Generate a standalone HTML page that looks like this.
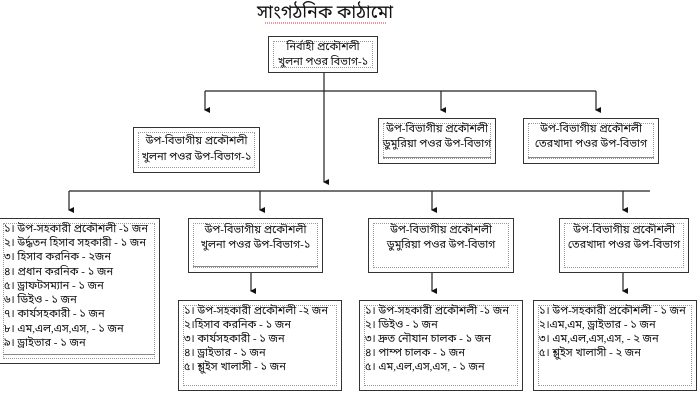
<!DOCTYPE html>
<html><head><meta charset="utf-8"><style>
html,body{margin:0;padding:0;background:#fff;width:700px;height:407px;overflow:hidden;position:relative;font-family:"Liberation Serif","Noto Sans Bengali","Lohit Bengali",serif;color:#111}
.b{position:absolute;border:1.5px solid #333;box-sizing:border-box;background:#fff}
.in{position:absolute;left:4px;right:4px;top:4px;bottom:4px;border:1px dotted #999}
.bl{position:absolute;left:4px;right:4px;bottom:5px;border-top:1px solid #888}
.t{position:absolute;left:0;right:0;text-align:center;font-size:11px;line-height:14px;white-space:nowrap}
.l{position:absolute;left:5px;font-size:11px;line-height:14.3px;white-space:nowrap}
</style></head><body>
<svg width="700" height="407" style="position:absolute;left:0;top:0">
<defs><marker id="a" markerWidth="6" markerHeight="6" refX="3" refY="5" orient="auto" markerUnits="userSpaceOnUse"><path d="M0,0 L6,0 L3,6z" fill="#111"/></marker></defs>
<g stroke="#222" stroke-width="1.2" fill="none">
<line x1="324" y1="73" x2="324" y2="182" marker-end="url(#a)"/>
<line x1="205" y1="91" x2="596" y2="91"/>
<line x1="205" y1="91" x2="205" y2="110" marker-end="url(#a)"/>
<line x1="441" y1="91" x2="441" y2="110" marker-end="url(#a)"/>
<line x1="596" y1="91" x2="596" y2="110" marker-end="url(#a)"/>
<line x1="69" y1="191" x2="650" y2="191"/>
<line x1="69" y1="191" x2="69" y2="210" marker-end="url(#a)"/>
<line x1="260" y1="191" x2="260" y2="210" marker-end="url(#a)"/>
<line x1="432" y1="191" x2="432" y2="210" marker-end="url(#a)"/>
<line x1="623" y1="191" x2="623" y2="210" marker-end="url(#a)"/>
<line x1="251" y1="273" x2="251" y2="291" marker-end="url(#a)"/>
<line x1="432" y1="273" x2="432" y2="291" marker-end="url(#a)"/>
<line x1="623" y1="273" x2="623" y2="291" marker-end="url(#a)"/>
</g>
<line x1="265" y1="23" x2="386" y2="23" stroke="#c33" stroke-width="1" stroke-dasharray="1,1"/>
</svg>
<div style="position:absolute;left:250px;top:1px;width:150px;text-align:center;font-size:18px;line-height:22px">সাংগঠনিক কাঠামো</div>

<div class="b" style="left:268px;top:36px;width:110px;height:37px"><div class="in"></div><div class="t" style="top:3px">নির্বাহী প্রকৌশলী</div><div class="t" style="top:18px">খুলনা পওর বিভাগ-১</div></div>

<div class="b" style="left:133px;top:127px;width:127px;height:46px"><div class="in"></div><div class="t" style="top:6px">উপ-বিভাগীয় প্রকৌশলী</div><div class="t" style="top:22px">খুলনা পওর উপ-বিভাগ-১</div></div>
<div class="b" style="left:378px;top:118px;width:118px;height:46px"><div class="in"></div><div class="bl"></div><div class="t" style="top:3px">উপ-বিভাগীয় প্রকৌশলী</div><div class="t" style="top:18px">ডুমুরিয়া পওর উপ-বিভাগ</div></div>
<div class="b" style="left:523px;top:118px;width:136px;height:46px"><div class="in"></div><div class="bl"></div><div class="t" style="top:3px">উপ-বিভাগীয় প্রকৌশলী</div><div class="t" style="top:18px">তেরখাদা পওর উপ-বিভাগ</div></div>

<div class="b" style="left:-2px;top:218px;width:162px;height:146px"><div class="in"></div><div class="bl" style="bottom:8px"></div>
<div class="l" style="top:3px">১। উপ-সহকারী প্রকৌশলী -১ জন</div>
<div class="l" style="top:17px">২। উর্দ্ধতন হিসাব সহকারী - ১ জন</div>
<div class="l" style="top:31px">৩। হিসাব করনিক - ২জন</div>
<div class="l" style="top:46px">৪। প্রধান করনিক - ১ জন</div>
<div class="l" style="top:60px">৫। ড্রাফটসম্যান - ১ জন</div>
<div class="l" style="top:74px">৬। ডিইও - ১ জন</div>
<div class="l" style="top:88px">৭। কার্যসহকারী - ১ জন</div>
<div class="l" style="top:103px">৮। এম,এল,এস,এস, - ১ জন</div>
<div class="l" style="top:117px">৯। ড্রাইভার - ১ জন</div></div>

<div class="b" style="left:188px;top:218px;width:135px;height:55px"><div class="in"></div><div class="bl"></div><div class="t" style="top:4px">উপ-বিভাগীয় প্রকৌশলী</div><div class="t" style="top:19px">খুলনা পওর উপ-বিভাগ-১</div></div>
<div class="b" style="left:368px;top:218px;width:146px;height:55px"><div class="in"></div><div class="t" style="top:4px">উপ-বিভাগীয় প্রকৌশলী</div><div class="t" style="top:19px">ডুমুরিয়া পওর উপ-বিভাগ</div></div>
<div class="b" style="left:559px;top:218px;width:130px;height:55px"><div class="in"></div><div class="t" style="top:4px">উপ-বিভাগীয় প্রকৌশলী</div><div class="t" style="top:19px">তেরখাদা পওর উপ-বিভাগ</div></div>

<div class="b" style="left:178px;top:300px;width:164px;height:91px"><div class="in"></div>
<div class="l" style="top:3px">১। উপ-সহকারী প্রকৌশলী -২ জন</div>
<div class="l" style="top:17px">২।হিসাব করনিক - ১ জন</div>
<div class="l" style="top:31px">৩। কার্যসহকারী - ১ জন</div>
<div class="l" style="top:45px">৪। ড্রাইভার - ১ জন</div>
<div class="l" style="top:59px">৫। শ্লুইস খালাসী - ১ জন</div></div>

<div class="b" style="left:359px;top:300px;width:164px;height:91px"><div class="in"></div>
<div class="l" style="top:3px">১। উপ-সহকারী প্রকৌশলী -১ জন</div>
<div class="l" style="top:17px">২। ডিইও - ১ জন</div>
<div class="l" style="top:31px">৩। দ্রুত নৌযান চালক - ১ জন</div>
<div class="l" style="top:45px">৪। পাম্প চালক - ১ জন</div>
<div class="l" style="top:59px">৫। এম,এল,এস,এস, - ১ জন</div></div>

<div class="b" style="left:533px;top:300px;width:164px;height:91px"><div class="in"></div>
<div class="l" style="top:3px">১। উপ-সহকারী প্রকৌশলী - ১ জন</div>
<div class="l" style="top:17px">২।এম,এম, ড্রাইভার - ১ জন</div>
<div class="l" style="top:31px">৩। এম,এল,এস,এস, - ২ জন</div>
<div class="l" style="top:45px">৫। শ্লুইস খালাসী - ২ জন</div></div>
</body></html>
